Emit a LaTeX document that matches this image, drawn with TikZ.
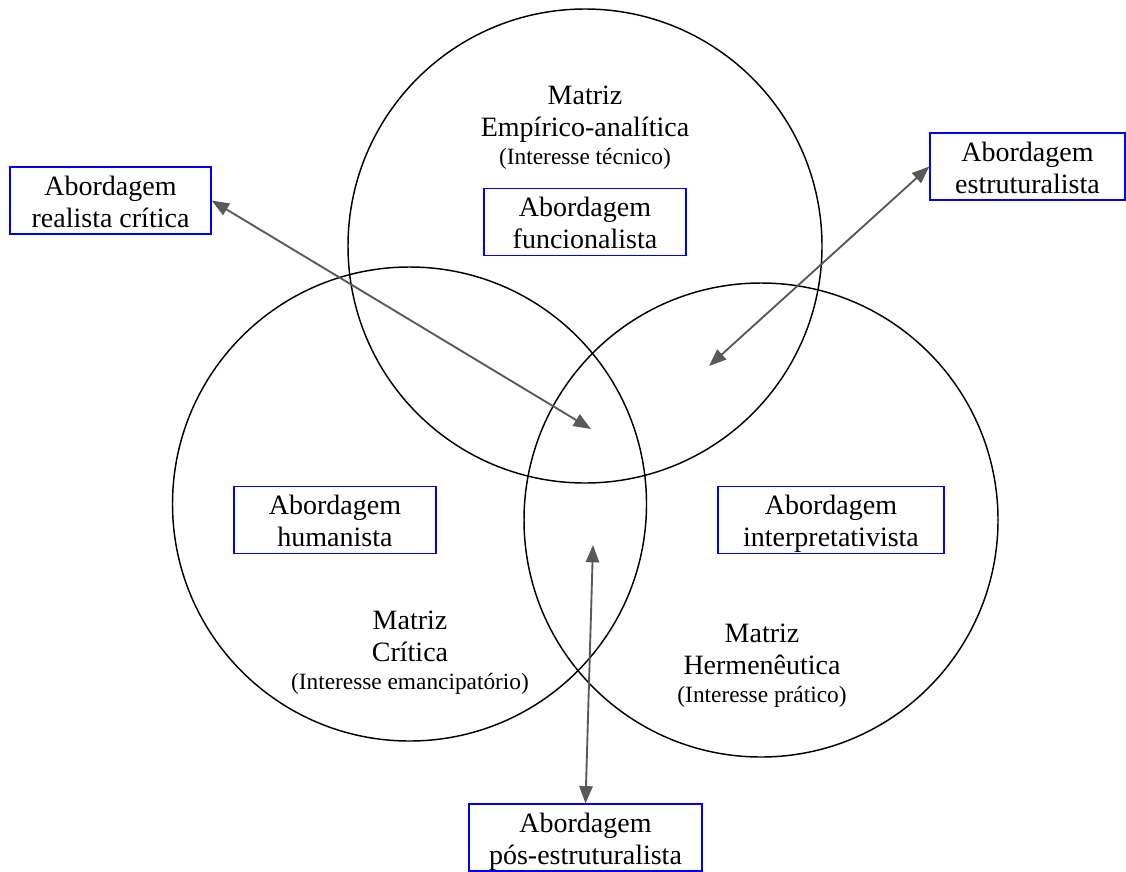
\documentclass[tikz,border=0pt]{standalone}
\usepackage{fontspec}
\setmainfont{Liberation Serif}
\usepackage{tikz}
\usetikzlibrary{arrows.meta,positioning}

\newcommand{\abord}[1]{\strut Abordagem\\\strut #1}
\newcommand{\interesse}[1]{{\fontsize{17.5}{21}\selectfont\strut (Interesse #1)}}

\begin{document}
\begin{tikzpicture}[x=0.75pt,y=-0.75pt,
  abox/.style={draw=blue, line width=1.1pt, align=center, inner sep=0pt,
    minimum height=50pt, text height=44.2pt, text depth=3.8pt,
    font=\fontsize{21}{24}\selectfont},
  matriz/.style={align=center, inner sep=0pt, font=\fontsize{21}{24}\selectfont},
  conn/.style={draw=black!65, line width=1.4pt,
    {Triangle[length=13pt,width=10pt]}-{Triangle[length=13pt,width=10pt]}}]
\useasboundingbox (0,0) rectangle (1126,871);

% the three circles
\draw[line width=1.1pt] (585,246) circle[radius=177.75pt];
\draw[line width=1.1pt] (409.5,504) circle[radius=177.75pt];
\draw[line width=1.1pt] (761,520) circle[radius=177.75pt];

% matrices
\node[matriz] (empirica) at (585,127) {\strut Matriz\\\strut Empírico-analítica\\[-3pt]
  \interesse{técnico}};
\node[matriz] (critica) at (410,652) {\strut Matriz\\\strut Crítica\\[-3pt]
  \interesse{emancipatório}};
\node[matriz] (hermeneutica) at (762,665) {\strut Matriz\\\strut Hermenêutica\\[-3pt]
  \interesse{prático}};

% abordagens
\node[abox, minimum width=150.75pt] (realista) at (110.5,200.5) {\abord{realista crítica}};
\node[abox, minimum width=146.25pt] (estrut) at (1027.5,166.5) {\abord{estruturalista}};
\node[abox, minimum width=151.5pt] (funcional) at (585,222) {\abord{funcionalista}};
\node[abox, minimum width=151.5pt] (humanista) at (335,520) {\abord{humanista}};
\node[abox, minimum width=169.5pt] (interpret) at (831,520) {\abord{interpretativista}};
\node[abox, minimum width=174.75pt] (pos) at (585.5,837.5) {\abord{pós-estruturalista}};

% arrows
\coordinate (meio) at (591,429);
\coordinate (direita) at (709,366);
\coordinate (baixo) at (593,545);
\draw[conn] (realista.east) -- (meio);
\draw[conn] (estrut.west) -- (direita);
\draw[conn] (pos.north) -- (baixo);
\end{tikzpicture}
\end{document}
